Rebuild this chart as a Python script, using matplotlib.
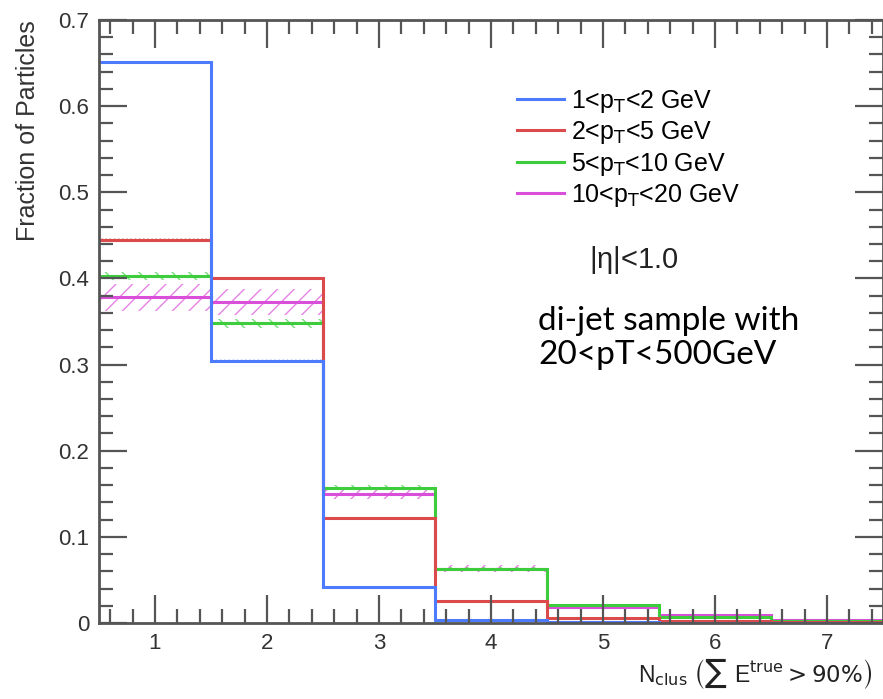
import numpy as np
import matplotlib
matplotlib.use("Agg")
from matplotlib import pyplot as plt
from matplotlib.ticker import MultipleLocator

# bin centres (N_clus) and fractions per pT range
n_clus = [1, 2, 3, 4, 5, 6, 7]
frac_1_2 = [0.651, 0.304, 0.042, 0.003, 0.001, 0.0005, 0.0003]
frac_2_5 = [0.445, 0.401, 0.122, 0.026, 0.006, 0.002, 0.001]
frac_5_10 = [0.403, 0.348, 0.157, 0.063, 0.021, 0.007, 0.002]
frac_10_20 = [0.378, 0.373, 0.150, 0.063, 0.019, 0.009, 0.004]

err_1_2 = [0.002, 0.002, 0.001, 0.0005, 0.0003, 0.0002, 0.0001]
err_2_5 = [0.002, 0.002, 0.001, 0.001, 0.0005, 0.0003, 0.0002]
err_5_10 = [0.005, 0.005, 0.003, 0.002, 0.001, 0.001, 0.0005]
err_10_20 = [0.016, 0.015, 0.006, 0.004, 0.002, 0.001, 0.001]

labels = [r"1<p$_{\mathrm{T}}$<2 GeV", r"2<p$_{\mathrm{T}}$<5 GeV",
          r"5<p$_{\mathrm{T}}$<10 GeV", r"10<p$_{\mathrm{T}}$<20 GeV"]
colors = ["#4d7bff", "#dc4b4b", "#3ccc3c", "#d94fd9"]

plt.rcParams['font.family'] = ['Liberation Sans', 'DejaVu Sans']
plt.rcParams['mathtext.default'] = 'regular'

fig = plt.figure(figsize=(8.83, 6.99), dpi=100)
ax = fig.add_axes([0.1121, 0.1087, 0.8879, 0.8627])

edges = np.append(np.array(n_clus) - 0.5, n_clus[-1] + 0.5)
series = [(frac_1_2, err_1_2), (frac_2_5, err_2_5), (frac_5_10, err_5_10), (frac_10_20, err_10_20)]
hatches = ["....", "....", "\\\\", "//"]
# draw the highest pT first so the low-pT histograms sit on top
for i in reversed(range(len(series))):
    vals, errs = series[i]
    vals = np.array(vals)
    errs = np.array(errs)
    ax.stairs(vals + errs, edges, baseline=vals - errs, fill=True, facecolor='none',
              edgecolor=colors[i], hatch=hatches[i], linewidth=0, alpha=0.7)
    ax.stairs(vals, edges, color=colors[i], linewidth=2.2, label=labels[i], baseline=None)

ax.set_xlim(0.5, 7.5)
ax.set_ylim(0, 0.7)
ax.xaxis.set_major_locator(MultipleLocator(1))
ax.xaxis.set_minor_locator(MultipleLocator(0.2))
ax.yaxis.set_minor_locator(MultipleLocator(0.02))
ax.set_yticks(np.arange(0, 0.71, 0.1))
ax.set_yticklabels(["0", "0.1", "0.2", "0.3", "0.4", "0.5", "0.6", "0.7"])
ax.tick_params(which='both', direction='in', top=True, right=True, colors='#555555',
               labelcolor='#333333', labelsize=16, width=1.6)
ax.tick_params(which='major', length=20, pad=7)
ax.tick_params(which='minor', length=10)
for s in ax.spines.values():
    s.set_color('#555555')
    s.set_linewidth(2)

ax.set_ylabel("Fraction of Particles", fontsize=18, color='#333333', loc='top')
ax.yaxis.set_label_coords(-0.075, 1.0)

plot_handles = [plt.Line2D([], [], color=c, linewidth=2.2) for c in colors]
leg = ax.legend(plot_handles, labels, loc='upper left', bbox_to_anchor=(0.505, 0.925),
                frameon=False, fontsize=18, handlelength=1.85, handletextpad=0.3,
                labelspacing=0.18)

ax.text(0.625, 0.588, r"|$\eta$|<1.0", transform=ax.transAxes, fontsize=21, color='#222222')
ax.text(0.56, 0.43, "di-jet sample with\n20<pT<500GeV", transform=ax.transAxes,
        fontsize=24, family=['Lato', 'DejaVu Sans'], color='black', linespacing=1.15)

fig.text(0.723, 0.012, r"N$_{\mathrm{clus}}$ $\left(\sum\ E^{\mathrm{true}}\mathrm{>90\%}\right)$",
         fontsize=16.5, color='#222222', ha='left', va='bottom')

fig.savefig("out.png", dpi=100)
